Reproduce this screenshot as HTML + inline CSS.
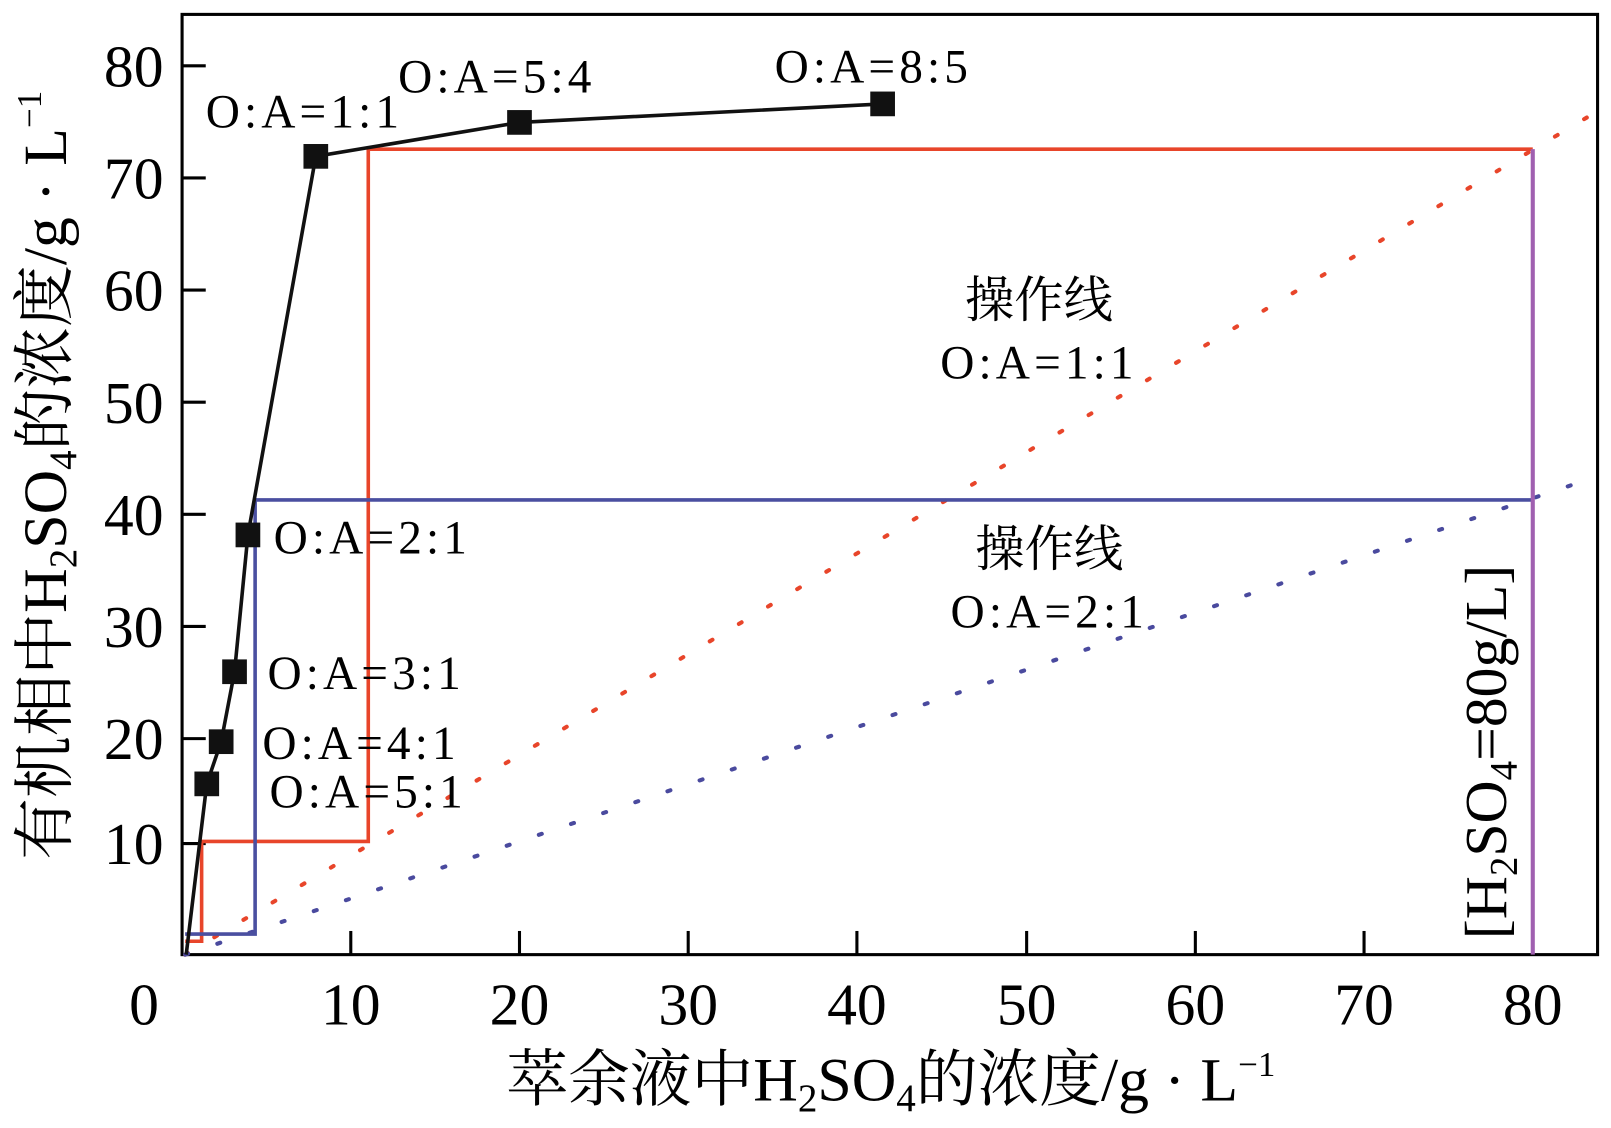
<!DOCTYPE html><html><head><style>body{margin:0;background:#fff}</style></head><body>
<svg width="1611" height="1123" xmlns="http://www.w3.org/2000/svg" font-family="Liberation Serif, Noto Serif CJK SC, serif">
<g transform="scale(1.0287)">
<rect x="177" y="14" width="1376" height="914" fill="none" stroke="#000" stroke-width="3"/>
<g stroke="#000" stroke-width="3">
<line x1="177" y1="64" x2="200" y2="64"/><line x1="177" y1="173" x2="200" y2="173"/><line x1="177" y1="282" x2="200" y2="282"/><line x1="177" y1="391" x2="200" y2="391"/><line x1="177" y1="500" x2="200" y2="500"/><line x1="177" y1="609" x2="200" y2="609"/><line x1="177" y1="718" x2="200" y2="718"/><line x1="177" y1="820" x2="200" y2="820"/>
<line x1="341" y1="928" x2="341" y2="905"/><line x1="505" y1="928" x2="505" y2="905"/><line x1="669" y1="928" x2="669" y2="905"/><line x1="833" y1="928" x2="833" y2="905"/><line x1="998" y1="928" x2="998" y2="905"/><line x1="1162" y1="928" x2="1162" y2="905"/><line x1="1326" y1="928" x2="1326" y2="905"/><line x1="1490" y1="928" x2="1490" y2="905"/>
</g>
<g font-size="58" text-anchor="end"><text x="159" y="84">80</text><text x="159" y="193">70</text><text x="159" y="302">60</text><text x="159" y="411">50</text><text x="159" y="520">40</text><text x="159" y="629">30</text><text x="159" y="738">20</text><text x="159" y="840">10</text></g>
<g font-size="58" text-anchor="middle"><text x="140" y="996">0</text><text x="341" y="996">10</text><text x="505" y="996">20</text><text x="669" y="996">30</text><text x="833" y="996">40</text><text x="998" y="996">50</text><text x="1162" y="996">60</text><text x="1326" y="996">70</text><text x="1490" y="996">80</text></g>
<text x="866" y="1070" font-size="60" text-anchor="middle">萃余液中H<tspan font-size="38" dy="10">2</tspan><tspan dy="-10">SO</tspan><tspan font-size="38" dy="10">4</tspan><tspan dy="-10">的浓度/g · L</tspan><tspan font-size="34" dy="-24">−1</tspan></text>
<text transform="translate(64,462) rotate(-90)" font-size="60" text-anchor="middle">有机相中H<tspan font-size="38" dy="10">2</tspan><tspan dy="-10">SO</tspan><tspan font-size="38" dy="10">4</tspan><tspan dy="-10">的浓度/g · L</tspan><tspan font-size="34" dy="-24">−1</tspan></text>
<line x1="180" y1="928" x2="1553" y2="108" stroke="#e8452a" stroke-width="4" stroke-dasharray="3 30" stroke-linecap="round"/>
<line x1="180" y1="928" x2="1553" y2="463" stroke="#4a4a9e" stroke-width="4" stroke-dasharray="3 30" stroke-linecap="round"/>
<polyline points="1490,145 358,145 358,818 196,818 196,915 180,915" fill="none" stroke="#e8452a" stroke-width="3.5"/>
<polyline points="1490,486 248,486 248,908 180,908" fill="none" stroke="#4a4fa0" stroke-width="3.5"/>
<line x1="1490" y1="145" x2="1490" y2="928" stroke="#a060b0" stroke-width="4"/>
<polyline points="181,928 201,762 215,721 228,653 241,520 307,152 505,119 858,101" fill="none" stroke="#111" stroke-width="3.5"/>
<g fill="#111"><rect x="189" y="750" width="24" height="24"/><rect x="203" y="709" width="24" height="24"/><rect x="216" y="641" width="24" height="24"/><rect x="229" y="508" width="24" height="24"/><rect x="295" y="140" width="24" height="24"/><rect x="493" y="107" width="24" height="24"/><rect x="846" y="89" width="24" height="24"/></g>
<g font-size="46" letter-spacing="4"><text x="200" y="124">O:A=1:1</text><text x="387" y="90">O:A=5:4</text><text x="753" y="80">O:A=8:5</text><text x="266" y="538">O:A=2:1</text><text x="260" y="670">O:A=3:1</text><text x="255" y="738">O:A=4:1</text><text x="262" y="785">O:A=5:1</text>
<text x="1010" y="308" text-anchor="middle" letter-spacing="0" font-size="48">操作线</text><text x="1010" y="368" text-anchor="middle">O:A=1:1</text><text x="1020" y="550" text-anchor="middle" letter-spacing="0" font-size="48">操作线</text><text x="1020" y="610" text-anchor="middle">O:A=2:1</text></g>
<text transform="translate(1464,731) rotate(-90)" font-size="58" text-anchor="middle">[H<tspan font-size="38" dy="10">2</tspan><tspan dy="-10">SO</tspan><tspan font-size="38" dy="10">4</tspan><tspan dy="-10">=80g/L]</tspan></text>
</g>
</svg></body></html>
